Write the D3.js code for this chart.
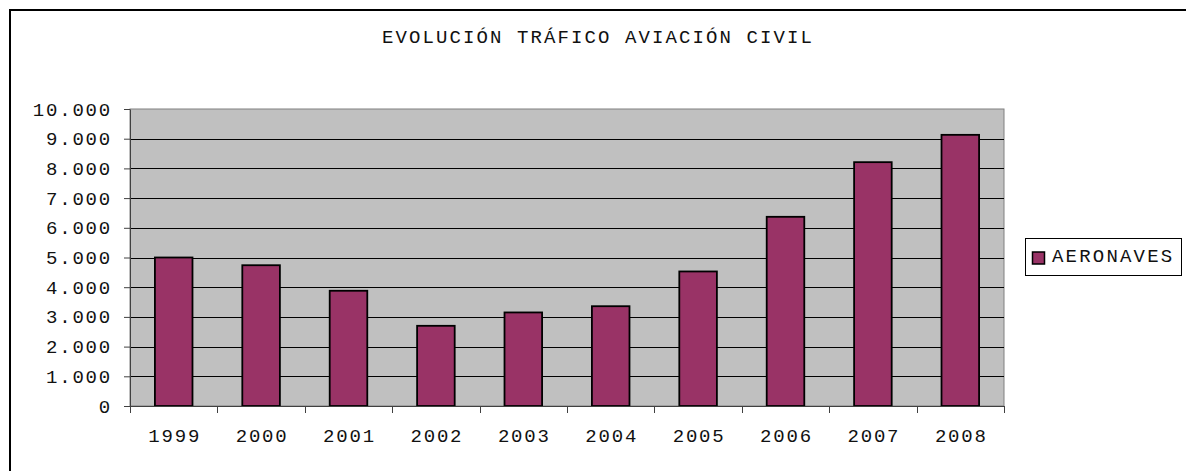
<!DOCTYPE html>
<html>
<head>
<meta charset="utf-8">
<script src="https://cdn.jsdelivr.net/npm/d3@7"></script>
<style>
  body { margin: 0; background: #fff; }
  text { font-family: "Liberation Mono", "Courier New", monospace; fill: #111; }
</style>
</head>
<body>
<svg id="drawing_region"></svg>
<script>
// chart data
var years = ['1999', '2000', '2001', '2002', '2003', '2004', '2005', '2006', '2007', '2008'];
var aeronaves = [5000, 4740, 3880, 2700, 3150, 3360, 4530, 6370, 8210, 9130];
var yticks = [0, 1000, 2000, 3000, 4000, 5000, 6000, 7000, 8000, 9000, 10000];
var series_name = 'AERONAVES';
var chart_title = 'EVOLUCIÓN TRÁFICO AVIACIÓN CIVIL';

var config = {
    width: 1186,
    height: 471,
    margin: {top: 109, right: 182, bottom: 65, left: 130}
};

var es = d3.formatLocale({decimal: ',', thousands: '.', grouping: [3], currency: ['', '€']});
var fmt = es.format(',');

var svg = d3.select('#drawing_region')
    .attr('width', config.width)
    .attr('height', config.height);

// outer frame (only top and left edges are visible)
svg.append('path')
    .attr('d', 'M10,471 V10 H1186')
    .attr('fill', 'none')
    .attr('stroke', '#000')
    .attr('stroke-width', 2);

var inner_width = config.width - config.margin.left - config.margin.right;
var inner_height = config.height - config.margin.top - config.margin.bottom;

var chart = svg.append('g')
    .attr('transform', `translate(${config.margin.left}, ${config.margin.top})`);

var xscale = d3.scaleBand()
    .domain(years)
    .range([0, inner_width])
    .paddingInner(0.57)
    .paddingOuter(0.285);

var xband = d3.scaleBand()
    .domain(years)
    .range([0, inner_width]);

var yscale = d3.scaleLinear()
    .domain([0, 10000])
    .range([inner_height, 0]);

// plot background
chart.append('rect')
    .attr('x', 0)
    .attr('y', 0)
    .attr('width', inner_width)
    .attr('height', inner_height)
    .attr('fill', '#c0c0c0')
    .attr('stroke', '#808080')
    .attr('stroke-width', 1);

// gridlines
chart.append('g')
    .selectAll('line')
    .data(yticks.filter(d => d > 0 && d < 10000))
    .join('line')
    .attr('x1', 0)
    .attr('x2', inner_width)
    .attr('y1', d => Math.round(yscale(d)) + 0.5)
    .attr('y2', d => Math.round(yscale(d)) + 0.5)
    .attr('stroke', '#000')
    .attr('stroke-width', 1);

// bars
chart.append('g')
    .selectAll('rect')
    .data(aeronaves)
    .join('rect')
    .attr('x', (d, i) => xscale(years[i]))
    .attr('y', d => yscale(d))
    .attr('width', xscale.bandwidth())
    .attr('height', d => inner_height - yscale(d))
    .attr('fill', '#993366')
    .attr('stroke', '#000')
    .attr('stroke-width', 1.8);

// y axis
var yaxis = d3.axisLeft(yscale)
    .tickValues(yticks)
    .tickFormat(fmt)
    .tickSize(6)
    .tickSizeOuter(0)
    .tickPadding(12);

var yaxis_group = chart.append('g').call(yaxis);

// x axis, ticks between categories
var xaxis_group = chart.append('g')
    .attr('transform', `translate(0, ${inner_height})`);

xaxis_group.append('line')
    .attr('x1', 0)
    .attr('x2', inner_width)
    .attr('y1', 0.5)
    .attr('y2', 0.5)
    .attr('stroke', '#404040');

xaxis_group.selectAll('.sep')
    .data(years.concat(['end']))
    .join('line')
    .attr('class', 'sep')
    .attr('x1', (d, i) => Math.round(i * xband.bandwidth()) + 0.5)
    .attr('x2', (d, i) => Math.round(i * xband.bandwidth()) + 0.5)
    .attr('y1', 0)
    .attr('y2', 7)
    .attr('stroke', '#404040');

xaxis_group.selectAll('.lbl')
    .data(years)
    .join('text')
    .attr('class', 'lbl')
    .attr('x', d => xscale(d) + xscale.bandwidth() / 2 + 1)
    .attr('y', 36)
    .attr('text-anchor', 'middle')
    .attr('font-size', '19px')
    .attr('letter-spacing', '1.8px')
    .text(d => d);

yaxis_group.select('.domain').attr('stroke', '#404040');
yaxis_group.selectAll('.tick line').attr('stroke', '#404040');
yaxis_group.selectAll('.tick text')
    .attr('font-size', '19px')
    .attr('letter-spacing', '1.8px')
    .attr('font-family', '"Liberation Mono", monospace')
    .attr('fill', '#111');

// title
svg.append('text')
    .attr('x', 598)
    .attr('y', 43)
    .attr('text-anchor', 'middle')
    .attr('font-size', '19px')
    .attr('letter-spacing', '2.1px')
    .text(chart_title);

// legend
var legend = svg.append('g')
    .attr('transform', 'translate(1025, 238)');

legend.append('rect')
    .attr('x', 0.5)
    .attr('y', 0.5)
    .attr('width', 156)
    .attr('height', 37)
    .attr('fill', '#fff')
    .attr('stroke', '#000')
    .attr('stroke-width', 1);

legend.append('rect')
    .attr('x', 7.5)
    .attr('y', 14)
    .attr('width', 12)
    .attr('height', 12)
    .attr('fill', '#993366')
    .attr('stroke', '#000')
    .attr('stroke-width', 1.5);

legend.append('text')
    .attr('x', 27)
    .attr('y', 24)
    .attr('font-size', '19px')
    .attr('letter-spacing', '2.2px')
    .text(series_name);
</script>
</body>
</html>
